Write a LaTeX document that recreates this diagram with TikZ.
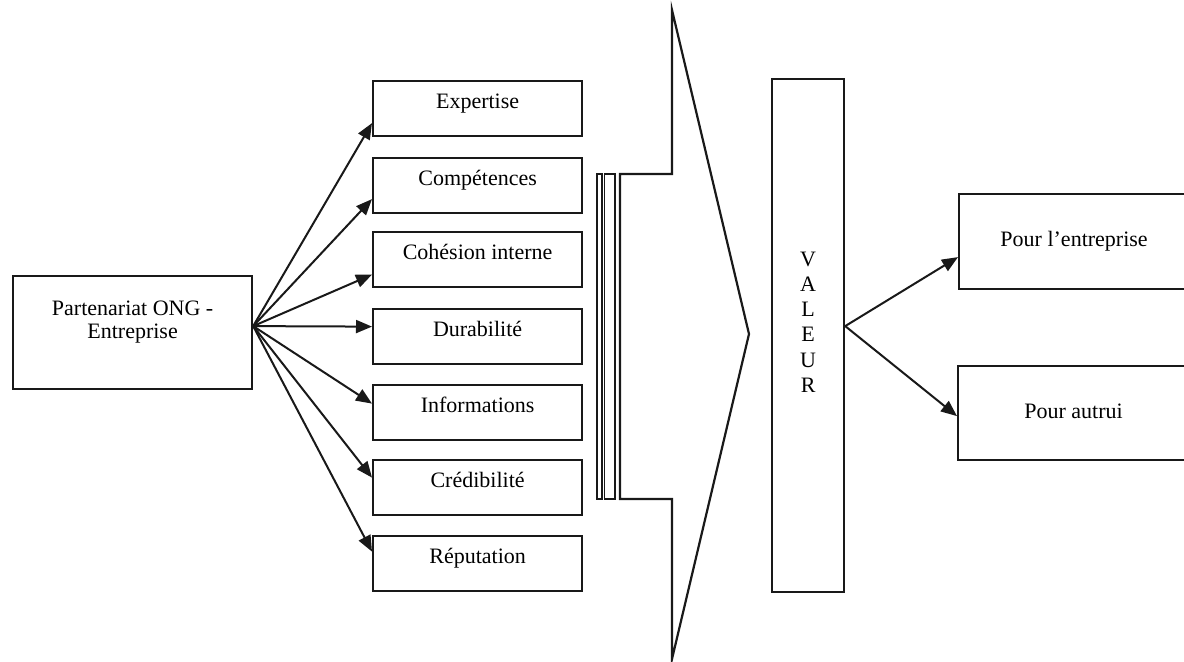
\documentclass[tikz,border=0pt]{standalone}
\usepackage{fontspec}
\setmainfont{Liberation Serif}
\usetikzlibrary{arrows.meta}
\tikzset{
  box/.style={draw=black!90, line width=1.1pt, rectangle, inner sep=0pt, anchor=north west,
              font=\fontsize{11}{11.5}\selectfont, align=center, text height=7pt, text depth=7pt},
  midbox/.style={box, minimum width=104.5pt, minimum height=27.5pt},
  rbox/.style={box, text height=9pt, text depth=4pt},
  txt/.style={inner sep=0pt, align=center, font=\fontsize{11}{11.5}\selectfont},
  conn/.style={line width=1pt, draw=black!90, -{Triangle[length=8pt,width=6.5pt]}},
  shapeline/.style={line width=1.1pt, draw=black!90, line join=miter},
  barline/.style={line width=0.8pt, draw=black!90}
}
\begin{document}
\begin{tikzpicture}[x=0.5pt, y=-0.5pt]
\useasboundingbox (0,0) rectangle (1184,661);

% left box
\node[box, minimum width=119.5pt, minimum height=56.5pt] (part) at (12,275) {};
\node[txt] (partt) at ([yshift=5.25pt]part.center) {Partenariat ONG -\\Entreprise};

% middle boxes
\node[midbox] (exp)  at (372,80)  {Expertise};
\node[midbox] (comp) at (372,157) {Compétences};
\node[midbox] (coh)  at (372,231) {Cohésion interne};
\node[midbox] (dur)  at (372,308) {Durabilité};
\node[midbox] (inf)  at (372,384) {Informations};
\node[midbox] (cred) at (372,459) {Crédibilité};
\node[midbox] (rep)  at (372,535) {Réputation};

% big arrow shape with thin bars
\draw[barline] (597,174) rectangle (602,499);
\draw[barline] (604.5,174) rectangle (615,499);
\draw[shapeline] (620,174) -- (672,174) -- (672,10) -- (749,334) -- (672,659) -- (672,499) -- (620,499) -- cycle;

% VALEUR
\node[box, minimum width=36pt, minimum height=256.5pt] (val) at (771,78) {};
\node[txt, font=\fontsize{11}{12.6}\selectfont] (valt) at ([yshift=6.75pt]val.center) {V\\A\\L\\E\\U\\R};

% right boxes
\node[rbox, minimum width=115pt, minimum height=47.5pt] (pe) at (958,193) {Pour l'entreprise};
\node[rbox, minimum width=115.5pt, minimum height=47pt] (pa) at (957,365) {Pour autrui};

% connectors from partenariat
\coordinate (src) at ([yshift=3.25pt]part.east);
\draw[conn] (src) -- ([yshift=-7.25pt]exp.west);
\draw[conn] (src) -- ([yshift=-6.75pt]comp.west);
\draw[conn] (src) -- ([yshift=-7.5pt]coh.west);
\draw[conn] (src) -- ([yshift=5pt]dur.west);
\draw[conn] (src) -- ([yshift=4.5pt]inf.west);
\draw[conn] (src) -- ([yshift=5pt]cred.west);
\draw[conn] (src) -- ([yshift=6pt]rep.west);

% connectors from valeur
\coordinate (vsrc) at ([yshift=4.75pt]val.east);
\draw[conn] (vsrc) -- ([yshift=-7.75pt]pe.west);
\draw[conn] (vsrc) -- ([yshift=-1.5pt]pa.west);
\end{tikzpicture}
\end{document}
